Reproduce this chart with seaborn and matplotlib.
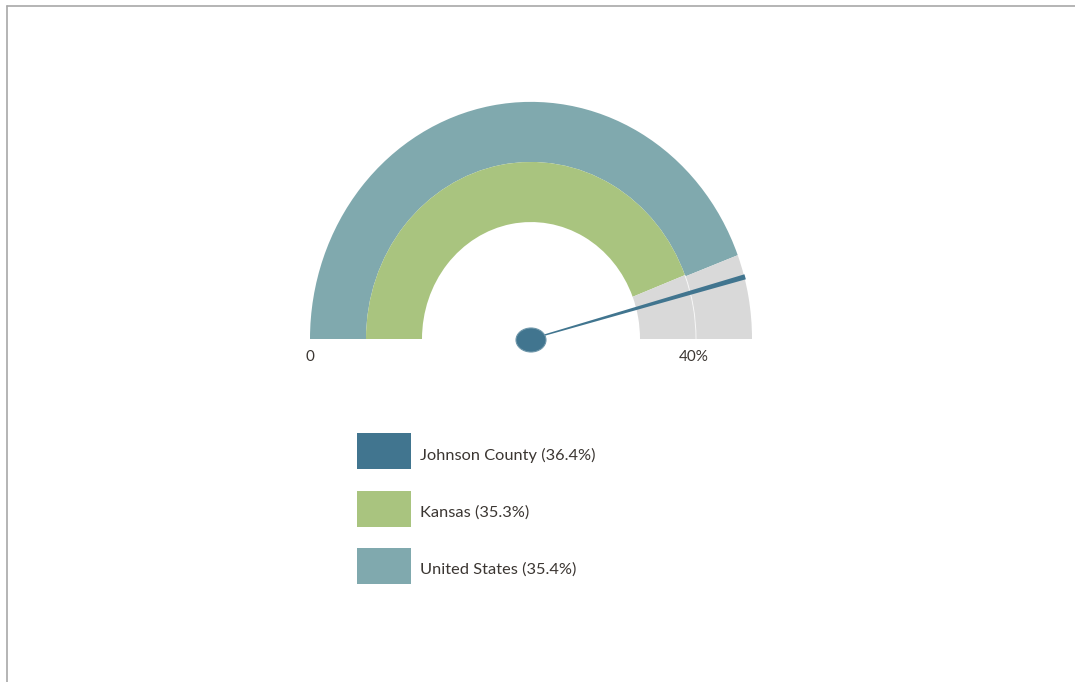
import numpy as np
import matplotlib
matplotlib.use("Agg")
import matplotlib.pyplot as plt
from matplotlib.patches import Wedge, Ellipse, Polygon, Rectangle
from matplotlib.transforms import Affine2D
import seaborn as sns

# Values (percent)
series = ["Johnson County", "Kansas", "United States"]
values = [36.4, 35.3, 35.4]
colors = ["#41758f", "#a9c47f", "#80a9ae"]
gauge_min, gauge_max = 0, 40
tick_labels = ["0", "40%"]

sns.set_theme(style="white")
plt.rcParams["font.family"] = ["Lato", "DejaVu Sans"]

W, H = 1075, 682
fig = plt.figure(figsize=(W / 100, H / 100), dpi=100)
ax = fig.add_axes([0, 0, 1, 1])
ax.set_xlim(0, W)
ax.set_ylim(H, 0)
ax.axis("off")

# frame lines on top and left
ax.plot([7, W], [6, 6], color="#a8a8a8", lw=1.2)
ax.plot([7, 7], [6, H], color="#a8a8a8", lw=1.2)

cx, cy = 531, 339
r_in, r_mid, r_out = 109, 165, 221
gray = "#d9d9d9"
# the dial is drawn slightly taller than wide
stretch = Affine2D().translate(-cx, -cy).scale(1, 1.073).translate(cx, cy) + ax.transData


def to_angle(v):
    # 0 at the left (180 deg), max at the right (0 deg)
    return 180.0 - (v - gauge_min) / (gauge_max - gauge_min) * 180.0


def ring(r0, r1, v, color):
    a = to_angle(v)
    # inverted y-axis: negative angles put the arc above the centre
    ax.add_patch(Wedge((cx, cy), r1, -180, -a, width=r1 - r0,
                       facecolor=color, edgecolor="none", transform=stretch))
    ax.add_patch(Wedge((cx, cy), r1, -a, 0, width=r1 - r0,
                       facecolor=gray, edgecolor="none", transform=stretch))


ring(r_mid, r_out, values[2], colors[2])
ring(r_in, r_mid, values[1], colors[1])
# thin separator between the two grey tracks
ax.add_patch(Wedge((cx, cy), r_mid + 0.5, -to_angle(values[1]), 0, width=1.0,
                   facecolor="white", edgecolor="none", alpha=0.7,
                   transform=stretch))

# needle
a = np.deg2rad(to_angle(values[0]))
L = 223
ux, uy = np.cos(a), -np.sin(a)
px, py = -uy, ux
w0, w1 = 0.6, 2.6
needle = Polygon([
    (cx + px * w0, cy + py * w0),
    (cx + ux * L + px * w1, cy + uy * L + py * w1),
    (cx + ux * L - px * w1, cy + uy * L - py * w1),
    (cx - px * w0, cy - py * w0),
], closed=True, facecolor=colors[0], edgecolor="none")
ax.add_patch(needle)
ax.add_patch(Ellipse((cx, cy + 1), 30, 24, facecolor=colors[0],
                     edgecolor="#6f97aa", lw=0.8))

# scale labels
txt_color = "#3b3632"
ax.text(cx - r_out, 357, tick_labels[0], ha="center", va="center",
        fontsize=11, color=txt_color)
ax.text(cx + r_mid - 2, 357, tick_labels[1], ha="center", va="center",
        fontsize=11, color=txt_color)

# legend: swatch plus label per series
lx, ly, sw, sh, step = 357, 433, 54, 36, 57.5
for i, (s, v, c) in enumerate(zip(series, values, colors)):
    y0 = ly + i * step
    ax.add_patch(Rectangle((lx, y0), sw, sh, facecolor=c, edgecolor="none"))
    ax.text(lx + sw + 9, y0 + sh / 2 + 4, f"{s} ({v:.1f}%)", ha="left",
            va="center", fontsize=11.8, color=txt_color)

fig.savefig("out.png", dpi=100, facecolor="white")
